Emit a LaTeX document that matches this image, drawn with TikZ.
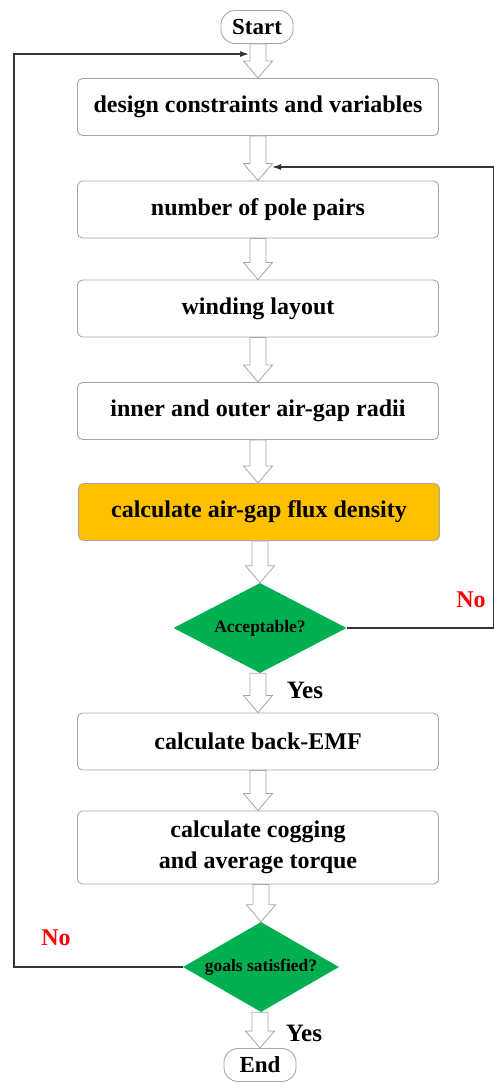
\documentclass[tikz,border=0pt]{standalone}
\usepackage{fontspec}
\setmainfont{Liberation Serif}
\usetikzlibrary{shapes.geometric,calc,arrows.meta}
\definecolor{boxline}{HTML}{A6A6A6}
\definecolor{orangefill}{HTML}{FFC000}
\definecolor{greenfill}{HTML}{00B050}
\tikzset{
  procbox/.style={draw=boxline, line width=0.9pt, rounded corners=5pt, fill=white,
    minimum width=361pt, minimum height=57pt, align=center, inner sep=2pt,
    font=\fontsize{24}{28}\selectfont\bfseries},
  termbox/.style={draw=boxline, line width=0.9pt, rounded corners=14pt, fill=white,
    minimum width=72pt, minimum height=33pt, inner sep=1pt,
    font=\fontsize{23}{26}\selectfont\bfseries},
  decbox/.style={diamond, aspect=2, draw=none, fill=greenfill, inner sep=0pt,
    font=\fontsize{17.5}{20}\selectfont\bfseries},
  blockarr/.style={draw=boxline, line width=0.8pt, fill=white, line join=miter},
  loopline/.style={draw=black!80, line width=1.2pt},
  nolabel/.style={text=red, font=\fontsize{24}{28}\selectfont\bfseries},
  yeslabel/.style={text=black, font=\fontsize{25}{28}\selectfont\bfseries},
}
\newcommand\blockarrow[3][258]{%
  \draw[blockarr] let \p1=(#2), \p2=(#3) in
    (#1pt-8pt,\y1) -- (#1pt+8pt,\y1) -- (#1pt+8pt,\y2+17pt) -- (#1pt+14.5pt,\y2+17pt)
    -- (#1pt,\y2) -- (#1pt-14.5pt,\y2+17pt) -- (#1pt-8pt,\y2+17pt) -- cycle;}
\begin{document}
\begin{tikzpicture}[x=1pt,y=-1pt]
\useasboundingbox (0,0) rectangle (494,1082);
\node[termbox] (start) at (257,27) {Start};
\node[procbox] (d1) at (258,107) {design constraints and variables};
\node[procbox] (d2) at (258,209.5) {number of pole pairs};
\node[procbox] (d3) at (258,308.5) {winding layout};
\node[procbox] (d4) at (258,411) {inner and outer air-gap radii};
\node[procbox, fill=orangefill] (d5) at (259,512) {calculate air-gap flux density};
\node[decbox, minimum width=173pt, minimum height=90pt] (acc) at (260,628) {Acceptable?};
\node[procbox] (emf) at (258,741.5) {calculate back-EMF};
\node[procbox, minimum height=73pt, font=\fontsize{24}{31}\selectfont\bfseries] (cog) at (258,847.5) {calculate cogging\\and average torque};
\node[decbox, minimum width=156pt, minimum height=90pt] (goal) at (261,967) {goals satisfied?};
\node[termbox] (end) at (260,1065) {End};

\blockarrow{start.south}{d1.north}
\blockarrow{d1.south}{d2.north}
\blockarrow{d2.south}{d3.north}
\blockarrow{d3.south}{d4.north}
\blockarrow{d4.south}{d5.north}
\blockarrow[260]{d5.south}{acc.north}
\blockarrow{acc.south}{emf.north}
\blockarrow{emf.south}{cog.north}
\blockarrow[261]{cog.south}{goal.north}
\blockarrow[260]{goal.south}{end.north}

\coordinate (tipA) at (272,167);
\coordinate (tipB) at (249,54);
\coordinate (rr) at (493.5,0);
\coordinate (ll) at (14,0);
\draw[loopline, -{Latex[length=9pt,width=6pt]}] (acc.east) -- (acc.east -| rr) -- (tipA -| rr) -- (tipA);
\draw[loopline, -{Latex[length=9pt,width=6pt]}] (goal.west) -- (goal.west -| ll) -- (tipB -| ll) -- (tipB);

\node[nolabel] (no1) at (471,600) {No};
\node[nolabel] (no2) at (56,938) {No};
\node[yeslabel] (yes1) at (305,690) {Yes};
\node[yeslabel] (yes2) at (304,1033) {Yes};
\end{tikzpicture}
\end{document}
